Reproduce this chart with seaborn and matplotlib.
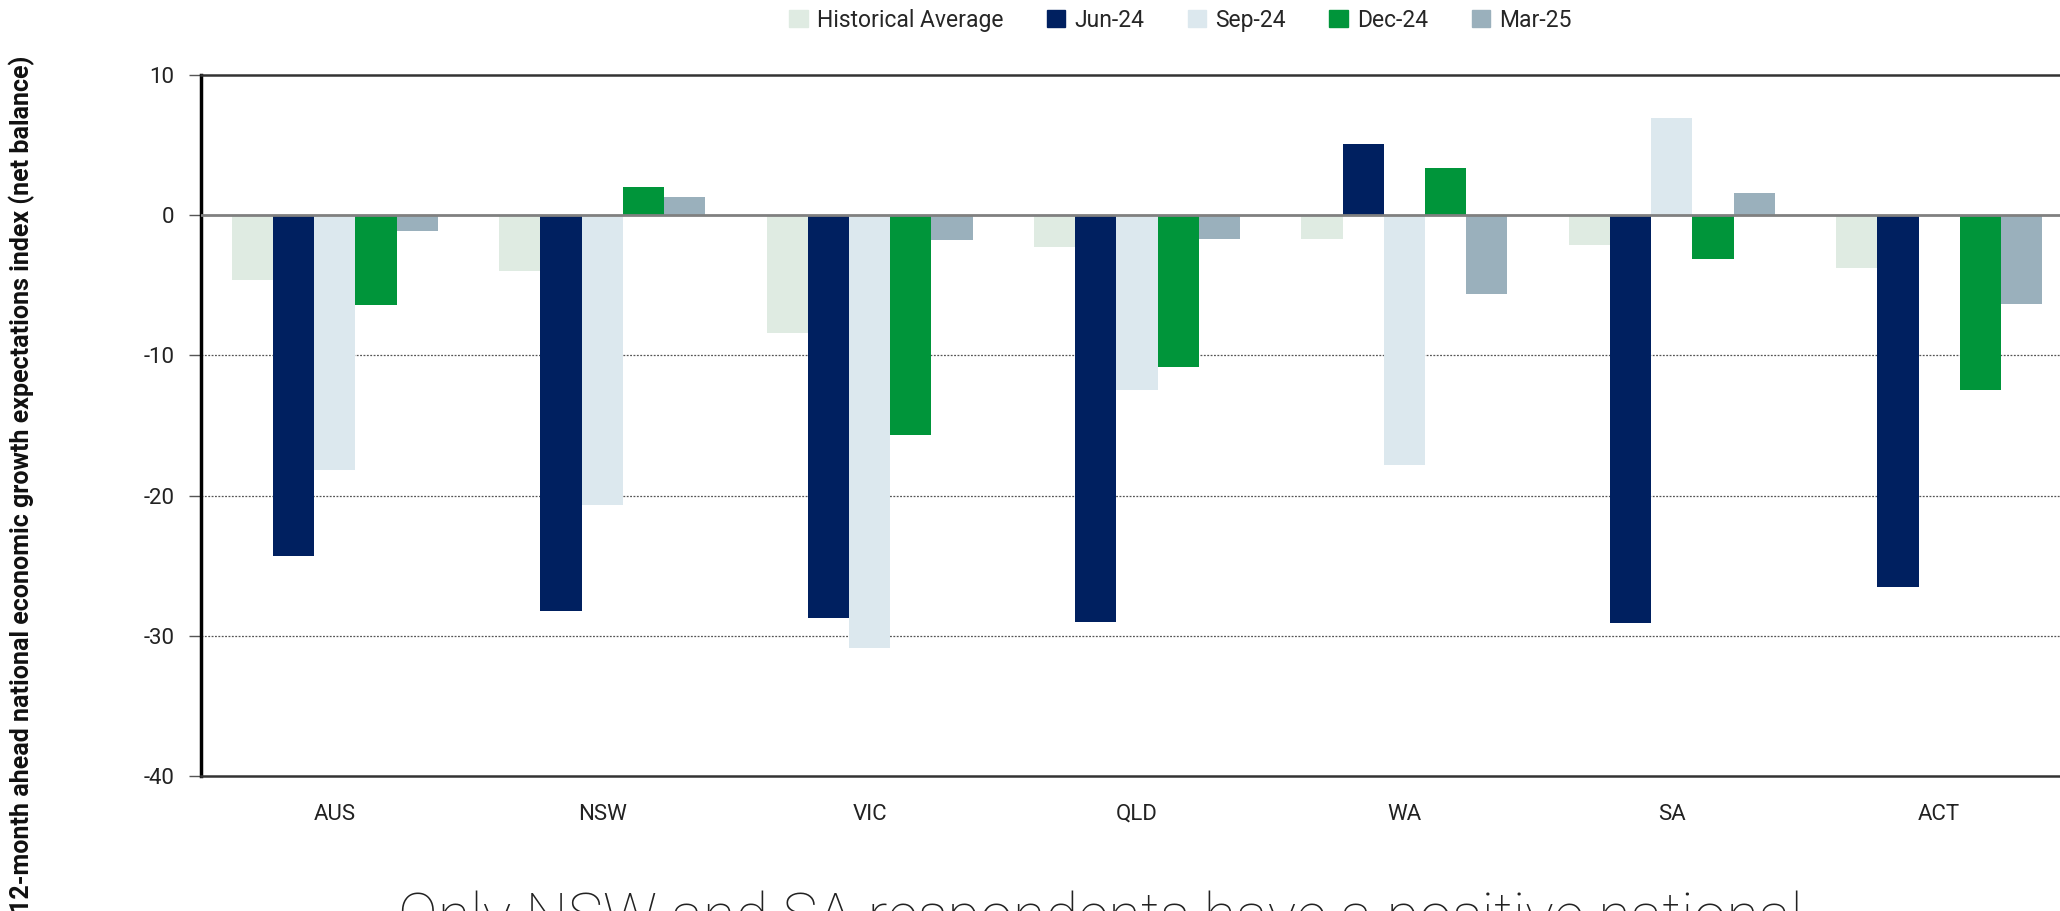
import matplotlib
matplotlib.use('Agg')
import matplotlib.pyplot as plt
import seaborn as sns
import pandas as pd
import numpy as np

regions = ['AUS', 'NSW', 'VIC', 'QLD', 'WA', 'SA', 'ACT']
periods = ['Historical Average', 'Jun-24', 'Sep-24', 'Dec-24', 'Mar-25']

hist_avg = [-4.6, -4.0, -8.4, -2.3, -1.7, -2.1, -3.8]
jun_24 = [-24.3, -28.2, -28.7, -29.0, 5.1, -29.1, -26.5]
sep_24 = [-18.2, -20.7, -30.9, -12.5, -17.8, 6.9, np.nan]
dec_24 = [-6.4, 2.0, -15.7, -10.8, 3.4, -3.1, -12.5]
mar_25 = [-1.1, 1.3, -1.8, -1.7, -5.6, 1.6, -6.3]

colors = ['#dfebe2', '#002060', '#dce8ee', '#00953a', '#9ab0bc']

df = pd.DataFrame({
    'Region': regions * 5,
    'Period': [p for p in periods for _ in regions],
    'Value': hist_avg + jun_24 + sep_24 + dec_24 + mar_25,
})

sns.set_style('white')
plt.rcParams['font.family'] = ['Roboto', 'DejaVu Sans']

fig = plt.figure(figsize=(20.6, 9.11), dpi=100)
ax = fig.add_axes([0.0976, 0.1482, 0.9087, 0.7695])

sns.barplot(data=df, x='Region', y='Value', hue='Period', hue_order=periods,
            palette=colors, width=0.77, linewidth=0, saturation=1,
            errorbar=None, legend=False, ax=ax)

ax.set_ylim(-40, 10)
ax.set_xlim(-0.5, 6.5)
ax.set_yticks([10, 0, -10, -20, -30, -40])
ax.set_yticklabels(['10', '0', '-10', '-20', '-30', '-40'])

# dotted gridlines and solid zero line
for y in [-10, -20, -30]:
    ax.axhline(y, color='#555555', lw=0.9, ls=(0, (1.5, 1.2)), zorder=0)
ax.axhline(0, color='#808080', lw=2, zorder=3)

for s in ['top', 'bottom']:
    ax.spines[s].set_color('#333333')
    ax.spines[s].set_linewidth(1.8)
ax.spines['left'].set_color('#000000')
ax.spines['left'].set_linewidth(2.5)
ax.spines['right'].set_visible(False)

ax.tick_params(axis='y', length=9, width=1, color='#555555', labelsize=16,
               labelcolor='#222222', pad=10, left=True)
ax.tick_params(axis='x', length=0, labelsize=16, labelcolor='#222222', pad=20)
ax.set_xlabel('')
ax.set_ylabel('')

fig.text(0.0105, 0.468,
         '12-month ahead national economic growth expectations index (net balance)',
         rotation=90, ha='center', va='center', fontsize=18, fontweight='bold',
         color='#111111')

handles = [plt.Rectangle((0, 0), 1, 1, color=c) for c in colors]
fig.legend(handles, periods, loc='center', bbox_to_anchor=(0.573, 0.978),
           ncol=5, frameon=False, fontsize=16.5, handlelength=0.8,
           handleheight=0.8, handletextpad=0.4, columnspacing=1.9)

fig.text(0.193, 0.022, 'Only NSW and SA respondents have a positive national',
         ha='left', va='top', fontsize=43, fontweight='light', color='#222222')

fig.savefig('out.png', dpi=100)
